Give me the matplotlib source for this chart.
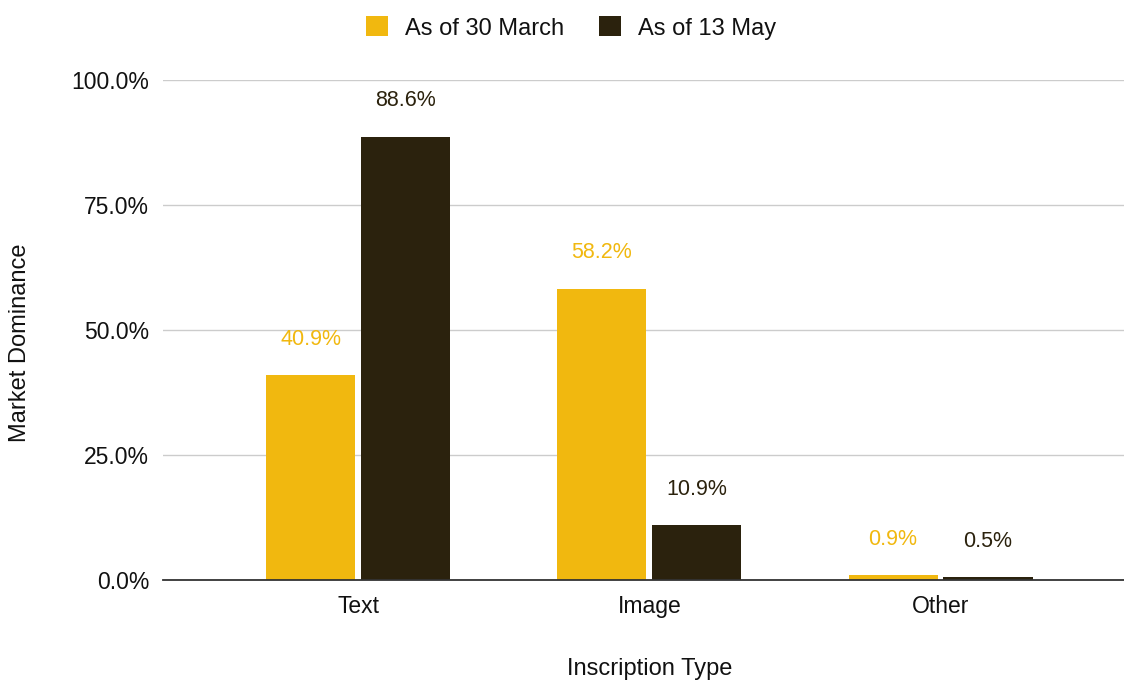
import matplotlib
matplotlib.use("Agg")
import matplotlib.pyplot as plt
import numpy as np
from matplotlib.ticker import FuncFormatter

categories = ["Text", "Image", "Other"]
series_names = ["As of 30 March", "As of 13 May"]
march = [40.9, 58.2, 0.9]
may = [88.6, 10.9, 0.5]
yticks = [0, 25, 50, 75, 100]

colors = ["#F1B80F", "#2B220D"]

plt.rcParams['font.family'] = ['Liberation Sans', 'DejaVu Sans']

fig = plt.figure(figsize=(11.24, 6.82), dpi=100)
ax = fig.add_axes([0.145, 0.1496, 0.855, 0.7331])

x = np.arange(len(categories))
w = 0.306
off = 0.163
b1 = ax.bar(x - off, march, w, color=colors[0], label=series_names[0], zorder=3)
b2 = ax.bar(x + off, may, w, color=colors[1], label=series_names[1], zorder=3)

for bars, vals, c in [(b1, march, colors[0]), (b2, may, colors[1])]:
    for rect, v in zip(bars, vals):
        ax.annotate(f"{v:.1f}%", (rect.get_x() + rect.get_width() / 2, v),
                    xytext=(0, 26), textcoords="offset points",
                    ha="center", va="center", fontsize=15.5, color=c,
                    annotation_clip=False)

ax.set_xlim(-0.67, 2.63)
ax.set_ylim(0, 100)
ax.set_yticks(yticks)
ax.yaxis.set_major_formatter(FuncFormatter(lambda v, p: f"{v:.1f}%"))
ax.set_xticks(x)
ax.set_xticklabels(categories)
ax.tick_params(axis="both", length=0, labelsize=16.5, colors="#111111")
ax.tick_params(axis="y", pad=10)
ax.tick_params(axis="x", pad=11)
ax.grid(axis="y", color="#cccccc", linewidth=1, zorder=0)
for s in ["left", "right", "top"]:
    ax.spines[s].set_visible(False)
ax.spines["bottom"].set_color("#333333")
ax.spines["bottom"].set_linewidth(1.3)
ax.spines["bottom"].set_zorder(4)

fig.text(650 / 1124, 1 - 669 / 682, "Inscription Type", ha="center", va="center", fontsize=17, color="#111111")
fig.text(20 / 1124, 1 - 343 / 682, "Market Dominance", ha="center", va="center", rotation=90, fontsize=17, color="#111111")

fig.legend(loc="center", bbox_to_anchor=(571 / 1124, 1 - 28 / 682), ncol=2, frameon=False,
           fontsize=17, handlelength=0.93, handleheight=0.93, columnspacing=1.45, handletextpad=0.72,
           labelcolor="#111111")

fig.savefig("out.png", dpi=100)
